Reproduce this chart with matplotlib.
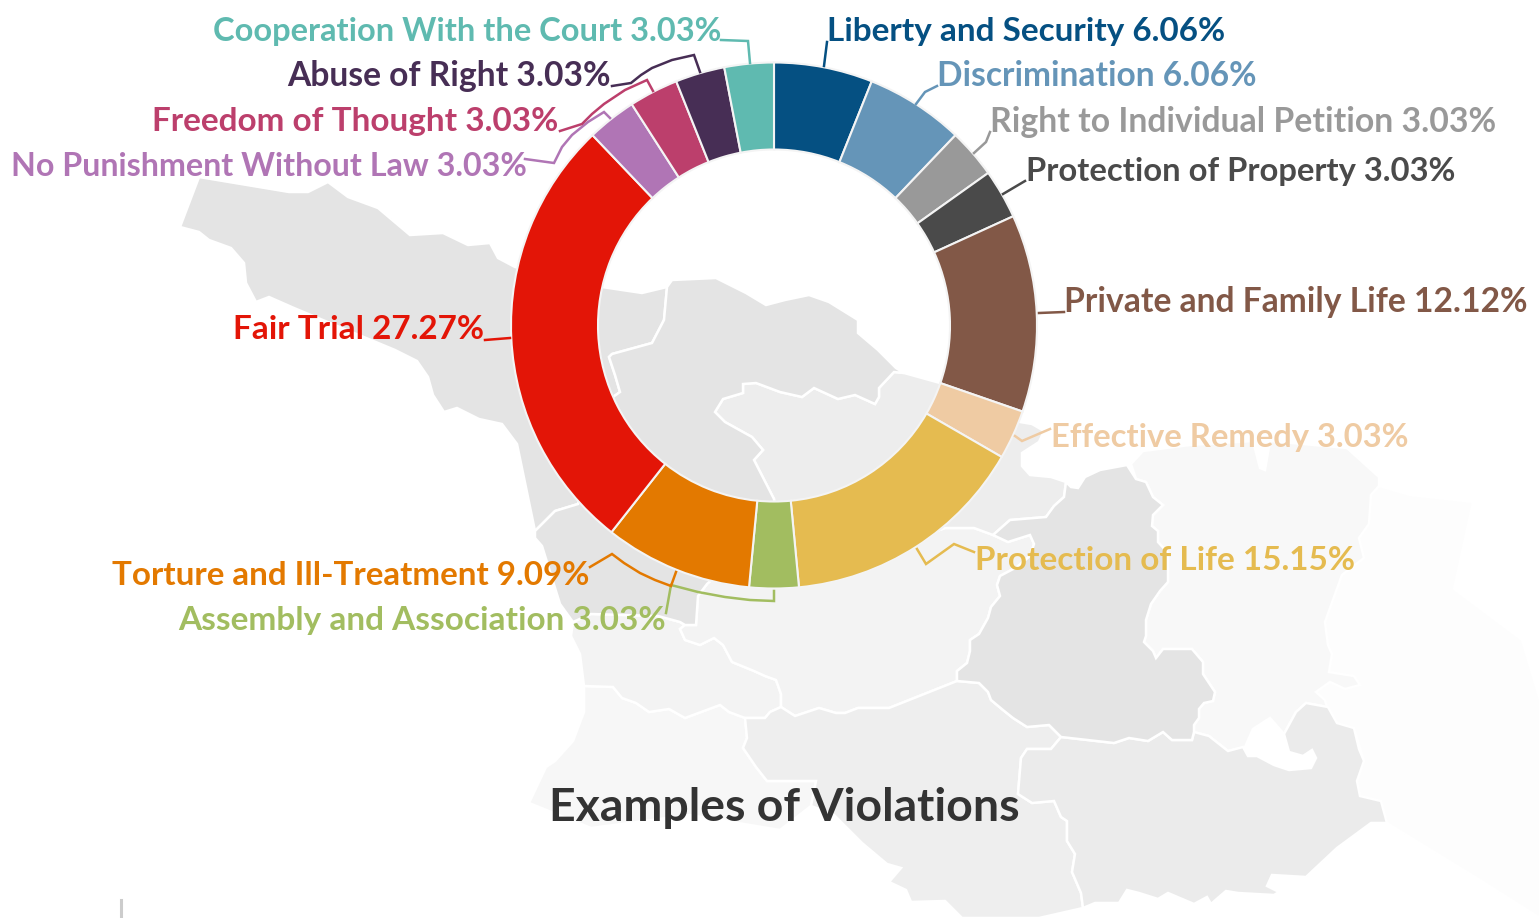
import numpy as np
import matplotlib
matplotlib.use('Agg')
import matplotlib.pyplot as plt
from matplotlib.patches import Polygon

W, H = 1540, 918

## Data
names = ['Liberty and Security', 'Discrimination', 'Right to Individual Petition', 'Protection of Property',
         'Private and Family Life', 'Effective Remedy', 'Protection of Life', 'Assembly and Association',
         'Torture and Ill-Treatment', 'Fair Trial', 'No Punishment Without Law', 'Freedom of Thought',
         'Abuse of Right', 'Cooperation With the Court']
values = [6.06, 6.06, 3.03, 3.03, 12.12, 3.03, 15.15, 3.03, 9.09, 27.27, 3.03, 3.03, 3.03, 3.03]
colors = ['#055082', '#6595b8', '#999999', '#4a4a4a', '#825847', '#efcba3', '#e5bb50', '#a2bd60',
          '#e37900', '#e31507', '#b075b5', '#bc3f6c', '#472e55', '#5fbab0']

# label anchor: x, y, alignment, width in pixels
label_pos = [(827, 30, 'left', 398), (937, 75, 'left', 320), (990, 120, 'left', 505), (1026, 170, 'left', 430),
             (1064, 301, 'left', 462), (1051, 436, 'left', 358), (975, 559, 'left', 380), (666, 619, 'right', 486),
             (589, 574, 'right', 477), (484, 328, 'right', 250), (527, 165, 'right', 517), (558, 120, 'right', 406),
             (611, 75, 'right', 323), (721, 30, 'right', 509)]

# leader lines, in picture pixels
leaders = [
    [(827, 42), (824, 66)],
    [(937, 86), (925, 92), (916, 104)],
    [(990, 132), (986, 142), (974, 153)],
    [(1025, 181), (1003, 194)],
    [(1064, 312), (1039, 313)],
    [(1050, 429), (1022, 441), (1015, 436)],
    [(974, 552), (954, 544), (926, 564), (917, 549)],
    [(666, 613), (671, 585), (698, 592), (725, 597), (750, 600), (774, 601), (774, 591)],
    [(590, 567), (612, 554), (624, 563), (640, 573), (655, 580), (671, 586), (676, 572)],
    [(485, 340), (510, 338)],
    [(525, 159), (554, 163), (562, 147), (572, 135), (588, 122), (604, 112), (610, 118)],
    [(560, 131), (582, 124), (592, 114), (604, 104), (625, 90), (647, 80), (653, 91)],
    [(612, 86), (631, 83), (641, 75), (652, 68), (672, 60), (694, 55), (700, 72)],
    [(721, 40), (748, 41), (750, 63)],
]

## Background map, traced in picture pixels
map_west = [(180, 227), (199, 177), (289, 192), (308, 192), (328, 182), (348, 197), (378, 208), (410, 235),
            (443, 233), (468, 245), (490, 243), (498, 258), (515, 267), (602, 287), (642, 293), (667, 287),
            (664, 320), (652, 343), (612, 354), (609, 357), (615, 375), (620, 392), (613, 397), (578, 504),
            (555, 511), (535, 531), (517, 444), (502, 424), (479, 419), (457, 408), (444, 412), (433, 395),
            (428, 377), (417, 361), (395, 350), (318, 318), (294, 308), (269, 297), (256, 302), (246, 283),
            (244, 263), (231, 248), (209, 240), (199, 232)]
map_centre = [(667, 287), (672, 280), (716, 278), (746, 293), (766, 305), (785, 300), (809, 295), (829, 302),
              (858, 320), (858, 333), (878, 350), (896, 368), (904, 373), (894, 372), (879, 388), (879, 397),
              (875, 404), (855, 395), (838, 399), (814, 388), (802, 397), (780, 392), (756, 383), (743, 384),
              (743, 393), (723, 399), (715, 412), (725, 422), (752, 437), (763, 450), (754, 460), (774, 499),
              (776, 520), (707, 584), (698, 596), (696, 625), (685, 625), (680, 622), (658, 616), (591, 614),
              (573, 622), (560, 604), (542, 546), (535, 538), (535, 531), (555, 511), (578, 504), (613, 397),
              (620, 392), (615, 375), (609, 357), (612, 354), (652, 343), (664, 320)]
map_inner = [(774, 499), (754, 460), (763, 450), (752, 437), (725, 422), (715, 412), (723, 399), (743, 393),
             (743, 384), (756, 383), (780, 392), (802, 397), (814, 388), (838, 399), (855, 395), (875, 404),
             (879, 397), (879, 388), (894, 372), (904, 373), (940, 383), (1020, 422), (1032, 424), (1044, 431),
             (1039, 442), (1022, 453), (1022, 466), (1030, 475), (1051, 477), (1066, 482), (1064, 497),
             (1054, 506), (1046, 517), (1010, 520), (993, 535), (974, 528), (945, 528), (860, 560), (776, 520)]
map_south1 = [(573, 622), (591, 614), (658, 616), (680, 622), (685, 625), (680, 629), (685, 640), (700, 645),
              (714, 638), (723, 645), (732, 662), (754, 671), (765, 676), (776, 680), (781, 694), (781, 707),
              (770, 712), (765, 718), (745, 718), (729, 712), (720, 705), (685, 718), (669, 709), (649, 712),
              (636, 703), (622, 698), (613, 687), (584, 686), (580, 654), (571, 636)]
map_south2 = [(696, 625), (698, 596), (707, 584), (776, 520), (860, 560), (945, 528), (974, 528), (993, 535),
              (1008, 542), (1030, 535), (1034, 544), (1030, 556), (1017, 567), (1000, 576), (997, 585),
              (1000, 596), (991, 607), (988, 618), (979, 634), (970, 640), (970, 651), (967, 663), (957, 671),
              (957, 681), (889, 708), (858, 708), (845, 713), (836, 713), (819, 708), (795, 716), (781, 707),
              (781, 694), (776, 680), (765, 676), (754, 671), (732, 662), (723, 645), (714, 638), (700, 645),
              (685, 640), (680, 629), (685, 625)]
map_sw = [(584, 686), (613, 687), (622, 698), (636, 703), (649, 712), (669, 709), (685, 718), (720, 705),
          (729, 712), (745, 718), (747, 738), (743, 748), (756, 767), (767, 781), (816, 781), (811, 806),
          (780, 830), (690, 815), (591, 828), (529, 803), (546, 767), (555, 761), (573, 741), (584, 712)]
map_mid = [(745, 718), (765, 718), (770, 712), (781, 707), (795, 716), (819, 708), (836, 713), (845, 713),
           (858, 708), (889, 708), (957, 681), (979, 683), (988, 692), (991, 700), (1003, 710), (1013, 718),
           (1027, 727), (1049, 725), (1061, 737), (1051, 749), (1027, 749), (1021, 758), (1018, 794),
           (1032, 803), (1054, 801), (1061, 817), (1067, 821), (1067, 841), (1075, 854), (1072, 872),
           (1081, 893), (1083, 908), (1039, 918), (962, 918), (945, 901), (911, 902), (906, 890), (889, 882),
           (901, 868), (887, 864), (862, 843), (833, 814), (811, 806), (816, 781), (767, 781), (756, 767),
           (743, 748), (747, 738)]
map_se = [(1061, 737), (1114, 743), (1129, 738), (1148, 741), (1163, 732), (1172, 740), (1192, 740), (1194, 732),
          (1209, 736), (1228, 751), (1243, 747), (1248, 756), (1257, 756), (1274, 765), (1289, 770), (1311, 768),
          (1316, 758), (1312, 750), (1303, 756), (1289, 752), (1284, 734), (1296, 712), (1306, 703), (1328, 707),
          (1337, 723), (1354, 728), (1359, 749), (1364, 761), (1357, 781), (1360, 796), (1381, 801), (1384, 812),
          (1387, 823), (1371, 823), (1337, 848), (1306, 877), (1272, 875), (1267, 886), (1279, 892), (1274, 895),
          (1238, 893), (1226, 891), (1219, 897), (1211, 904), (1207, 897), (1194, 904), (1168, 893), (1158, 899),
          (1139, 893), (1127, 890), (1119, 903), (1095, 903), (1083, 908), (1081, 893), (1072, 872), (1075, 854),
          (1067, 841), (1067, 821), (1061, 817), (1054, 801), (1032, 803), (1018, 794), (1021, 758), (1027, 749),
          (1051, 749)]
map_east = [(1066, 482), (1071, 487), (1078, 488), (1085, 477), (1100, 470), (1127, 465), (1136, 479), (1146, 482),
            (1153, 497), (1163, 505), (1153, 515), (1152, 526), (1158, 531), (1158, 542), (1168, 553), (1168, 582),
            (1160, 591), (1151, 604), (1146, 620), (1146, 636), (1144, 642), (1153, 651), (1156, 658), (1163, 649),
            (1192, 649), (1203, 662), (1203, 674), (1215, 692), (1213, 701), (1204, 703), (1199, 709), (1199, 718),
            (1194, 725), (1194, 732), (1192, 740), (1172, 740), (1163, 732), (1148, 741), (1129, 738), (1114, 743),
            (1061, 737), (1049, 725), (1027, 727), (1013, 718), (1003, 710), (991, 700), (988, 692), (979, 683),
            (957, 681), (957, 671), (967, 663), (970, 651), (970, 640), (979, 634), (988, 618), (991, 607),
            (1000, 596), (997, 585), (1000, 576), (1017, 567), (1030, 556), (1034, 544), (1030, 535), (1008, 542),
            (993, 535), (1010, 520), (1046, 517), (1054, 506), (1064, 497)]
map_ne = [(1131, 464), (1143, 451), (1190, 445), (1253, 441), (1260, 468), (1265, 470), (1270, 441), (1347, 448),
          (1379, 477), (1379, 486), (1371, 495), (1369, 524), (1359, 538), (1364, 558), (1342, 575), (1325, 622),
          (1328, 645), (1332, 654), (1329, 672), (1354, 676), (1360, 685), (1345, 689), (1330, 682), (1316, 692),
          (1325, 700), (1327, 707), (1306, 703), (1296, 712), (1284, 734), (1270, 718), (1253, 729), (1245, 747),
          (1228, 751), (1209, 736), (1194, 732), (1194, 725), (1199, 718), (1199, 709), (1204, 703), (1213, 701),
          (1215, 692), (1203, 674), (1203, 662), (1192, 649), (1163, 649), (1156, 658), (1153, 651), (1144, 642),
          (1146, 636), (1146, 620), (1151, 604), (1160, 591), (1168, 582), (1168, 553), (1158, 542), (1158, 531),
          (1152, 526), (1153, 515), (1163, 505), (1153, 497), (1146, 482), (1136, 479)]
map_far = [(1379, 486), (1410, 495), (1473, 502), (1454, 589), (1522, 640), (1540, 700), (1540, 918), (1480, 880),
           (1387, 823), (1384, 812), (1381, 801), (1360, 796), (1357, 781), (1364, 761), (1354, 728), (1337, 723),
           (1327, 707), (1325, 700), (1316, 692), (1330, 682), (1345, 689), (1360, 685), (1354, 676), (1329, 672),
           (1332, 654), (1328, 645), (1325, 622), (1342, 575), (1364, 558), (1359, 538), (1369, 524), (1371, 495)]
map_shapes = [(map_far, '#fdfdfd'), (map_ne, '#f8f8f8'), (map_sw, '#f7f7f7'), (map_south1, '#f3f3f3'),
              (map_south2, '#f3f3f3'), (map_mid, '#eeeeee'), (map_se, '#ebebeb'), (map_inner, '#ededed'),
              (map_west, '#e4e4e4'), (map_centre, '#e4e4e4'), (map_east, '#e4e4e4')]

def flip(points):
    return [(x, H - y) for x, y in points]

## Plot
plt.rcParams['font.family'] = ['Lato', 'DejaVu Sans']
fig = plt.figure(figsize=(W / 100, H / 100), dpi=100)
ax = fig.add_axes([0, 0, 1, 1])

for shape, col in map_shapes:
    ax.add_patch(Polygon(flip(shape), closed=True, facecolor=col, edgecolor='white', linewidth=1.8, zorder=1))

ax.plot([121, 121], [0, 18], color='#cccccc', lw=2.2, zorder=1)

ax.pie(values, colors=colors, startangle=90, counterclock=False, center=(774, H - 325.5), radius=263,
       wedgeprops=dict(width=87, edgecolor='#f4f4f4', linewidth=1.5, zorder=2))

for line, col in zip(leaders, colors):
    pts = np.array(flip(line))
    ax.plot(pts[:, 0], pts[:, 1], color=col, lw=1.8, zorder=3, solid_joinstyle='miter')

ax.set_xlim(0, W)
ax.set_ylim(0, H)
ax.set_aspect('auto')
ax.axis('off')

# scale every label so it spans the same width as in the picture
renderer = fig.canvas.get_renderer()
for name, val, (x, y, ha, width), col in zip(names, values, label_pos, colors):
    t = ax.text(x, H - y - 1.5, f'{name} {val:.2f}%', color=col, fontsize=23.5, fontweight='bold',
                ha=ha, va='center', zorder=4)
    t.set_fontsize(23.5 * width / t.get_window_extent(renderer).width)

ax.text(784, H - 808, 'Examples of Violations', color='#333333', fontsize=33.4, fontweight='bold',
        ha='center', va='center', zorder=4)

fig.savefig('out.png', dpi=100, facecolor='white')
